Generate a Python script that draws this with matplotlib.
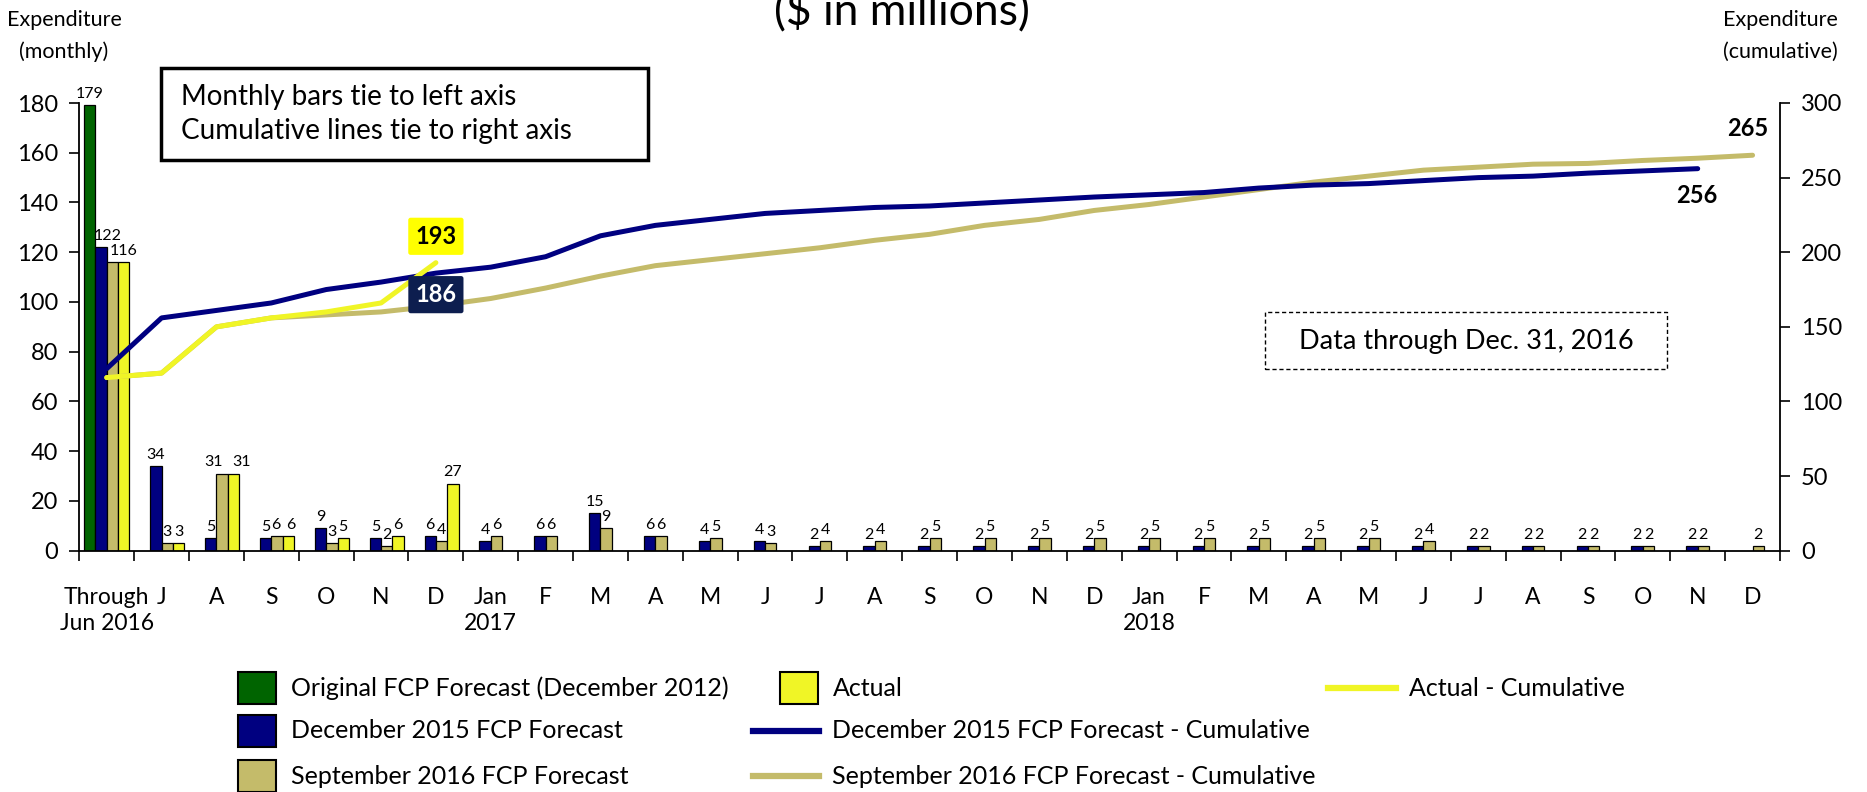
import numpy as np
import matplotlib.pyplot as plt
from matplotlib.patches import Rectangle
from matplotlib.lines import Line2D

plt.rcParams['font.family'] = ['Lato', 'DejaVu Sans']

W, H = 1867, 792

# categories (one per month after the opening lump)
months = ['Through\nJun 2016', 'J', 'A', 'S', 'O', 'N', 'D',
          'Jan\n2017', 'F', 'M', 'A', 'M', 'J', 'J', 'A', 'S', 'O', 'N', 'D',
          'Jan\n2018', 'F', 'M', 'A', 'M', 'J', 'J', 'A', 'S', 'O', 'N', 'D']

# monthly spend, $M
original_2012 = [179]
dec2015 = [122, 34, 5, 5, 9, 5, 6, 4, 6, 15, 6, 4, 4, 2, 2, 2, 2, 2, 2,
           2, 2, 2, 2, 2, 2, 2, 2, 2, 2, 2]
sep2016 = [116, 3, 31, 6, 3, 2, 4, 6, 6, 9, 6, 5, 3, 4, 4, 5, 5, 5, 5,
           5, 5, 5, 5, 5, 4, 2, 2, 2, 2, 2, 2]
actual = [116, 3, 31, 6, 5, 6, 27]

# cumulative spend, $M
dec2015_cum = [122, 156, 161, 166, 175, 180, 186, 190, 197, 211, 218, 222,
               226, 228, 230, 231, 233, 235, 237, 238.5, 240, 243, 245, 246,
               248, 250, 251, 253, 254.5, 256]
sep2016_cum = [116, 119, 150, 156, 158, 160, 164, 169, 176, 184, 191, 195,
               199, 203, 208, 212, 218, 222, 228, 232, 237, 242, 247, 251,
               255, 257, 259, 259.5, 261.5, 263, 265]
actual_cum = [116, 119, 150, 156, 160, 166, 193]

GREEN = '#006400'
NAVY = '#000080'
KHAKI = '#C4BB6A'
YELLOW = '#F0F526'


def fx(px):
    return px / W


def fy(py):
    return 1 - py / H


fig = plt.figure(figsize=(W / 100, H / 100), dpi=100)
ax = fig.add_axes([fx(79.3), fy(550.7), fx(1780) - fx(79.3), fy(103) - fy(550.7)])
ax2 = ax.twinx()

n = len(months)
w = 0.207
series = [(original_2012, GREEN), (dec2015, NAVY), (sep2016, KHAKI), (actual, YELLOW)]
# label nudges (points) where neighbouring labels would collide; key = (series, month)
nudge = {(1, 0): 5, (2, 2): -6, (3, 2): 6, (2, 3): -1, (3, 3): 1.5}
skip = {(2, 0)}  # same value as the actual bar beside it
for k, (vals, col) in enumerate(series):
    xs = np.arange(len(vals)) + (k - 1.5) * w
    bars = ax.bar(xs, vals, width=w, color=col, edgecolor='black', linewidth=0.9, zorder=2)
    for i, (b, v) in enumerate(zip(bars, vals)):
        if (k, i) in skip:
            continue
        ax.annotate(f'{v:g}', (b.get_x() + b.get_width() / 2, v),
                    xytext=(nudge.get((k, i), 0), 3),
                    textcoords='offset points', ha='center', va='bottom',
                    fontsize=11.5, annotation_clip=False)

ax.set_xlim(-0.5, n - 0.5)
ax.set_ylim(0, 180)
ax.set_yticks(range(0, 181, 20))
ax.set_xticks(range(n))
ax.set_xticklabels(months, fontsize=16.5, linespacing=1.3)
ax.set_xticks(np.arange(-0.5, n, 1), minor=True)
ax.tick_params(axis='x', which='major', length=0, pad=26)
ax.tick_params(axis='x', which='minor', length=7, width=1.2, direction='out')
ax.tick_params(axis='y', length=7, width=1.2, direction='out', labelsize=17, pad=8)
for s in ['top', 'right']:
    ax.spines[s].set_visible(False)
ax.spines['left'].set_linewidth(1.3)
ax.spines['bottom'].set_linewidth(1.3)

# cumulative lines on the right axis
x = np.arange(n)
ax2.plot(x[:len(sep2016_cum)], sep2016_cum, color=KHAKI, lw=3.6, solid_capstyle='round', zorder=3)
ax2.plot(x[:len(dec2015_cum)], dec2015_cum, color=NAVY, lw=3.6, solid_capstyle='round', zorder=4)
ax2.plot(x[:len(actual_cum)], actual_cum, color=YELLOW, lw=3.6, solid_capstyle='round', zorder=5)
ax2.set_ylim(0, 300)
ax2.set_yticks(range(0, 301, 50))
ax2.tick_params(axis='y', length=7, width=1.2, direction='out', labelsize=17, pad=8)
for s in ['top', 'left', 'bottom']:
    ax2.spines[s].set_visible(False)
ax2.spines['right'].set_linewidth(1.3)

ia = len(actual_cum) - 1
ax2.annotate(f'{actual_cum[-1]:g}', (ia, actual_cum[-1]), xytext=(0, 19), textcoords='offset points',
             ha='center', va='center', fontsize=17, fontweight='bold', color='black',
             bbox=dict(boxstyle='round,pad=0.3,rounding_size=0.1', fc='#FFFF00', ec='none'), zorder=6)
ax2.annotate(f'{dec2015_cum[ia]:g}', (ia, dec2015_cum[ia]), xytext=(0, -15.5), textcoords='offset points',
             ha='center', va='center', fontsize=17, fontweight='bold', color='white',
             bbox=dict(boxstyle='round,pad=0.3,rounding_size=0.1', fc='#0D1E4F', ec='none'), zorder=6)
ax2.annotate(f'{sep2016_cum[-1]:g}', (len(sep2016_cum) - 1, sep2016_cum[-1]), xytext=(-3.6, 19),
             textcoords='offset points', ha='center', va='center', fontsize=17,
             fontweight='bold', annotation_clip=False)
ax2.annotate(f'{dec2015_cum[-1]:g}', (len(dec2015_cum) - 1, dec2015_cum[-1]), xytext=(-1, -19.5),
             textcoords='offset points', ha='center', va='center', fontsize=17,
             fontweight='bold', annotation_clip=False)

# axis titles and heading
fig.text(fx(64), fy(20), 'Expenditure', ha='center', va='center', fontsize=15.5)
fig.text(fx(64), fy(52), '(monthly)', ha='center', va='center', fontsize=15.5)
fig.text(fx(1780), fy(20), 'Expenditure', ha='center', va='center', fontsize=15.5)
fig.text(fx(1780), fy(52), '(cumulative)', ha='center', va='center', fontsize=15.5)
fig.text(fx(902), fy(24), '($ in millions)', ha='center', va='baseline', fontsize=32)

# note boxes
fig.add_artist(Rectangle((fx(161), fy(160)), fx(648) - fx(161), fy(68) - fy(160),
                         transform=fig.transFigure, fc='white', ec='black', lw=2.5, zorder=10))
fig.text(fx(181), fy(114), 'Monthly bars tie to left axis\nCumulative lines tie to right axis',
         ha='left', va='center', fontsize=20, linespacing=1.4, zorder=11)
fig.add_artist(Rectangle((fx(1265), fy(369)), fx(1667) - fx(1265), fy(312) - fy(369),
                         transform=fig.transFigure, fc='white', ec='black', lw=1,
                         linestyle=(0, (3, 2)), zorder=10))
fig.text(fx(1466), fy(341), 'Data through Dec. 31, 2016', ha='center', va='center',
         fontsize=19.5, zorder=11)

# legend, three columns
LEG_FS = 18


def patch_key(x0, yc, col, label):
    fig.add_artist(Rectangle((fx(x0), fy(yc + 16)), fx(38), 32 / H, transform=fig.transFigure,
                             fc=col, ec='black', lw=1.5))
    fig.text(fx(x0 + 53), fy(yc), label, ha='left', va='center', fontsize=LEG_FS)


def line_key(x0, x1, yc, col, label):
    fig.add_artist(Line2D([fx(x0), fx(x1)], [fy(yc), fy(yc)], transform=fig.transFigure,
                          color=col, lw=4.5))
    fig.text(fx(x1 + 13), fy(yc), label, ha='left', va='center', fontsize=LEG_FS)


patch_key(238, 688, GREEN, 'Original FCP Forecast (December 2012)')
patch_key(238, 731, NAVY, 'December 2015 FCP Forecast')
patch_key(238, 776, KHAKI, 'September 2016 FCP Forecast')
patch_key(780, 688, YELLOW, 'Actual')
line_key(753, 819, 731, NAVY, 'December 2015 FCP Forecast - Cumulative')
line_key(753, 819, 776, KHAKI, 'September 2016 FCP Forecast - Cumulative')
line_key(1328, 1396, 688, YELLOW, 'Actual - Cumulative')

fig.savefig('out.png', dpi=100)
